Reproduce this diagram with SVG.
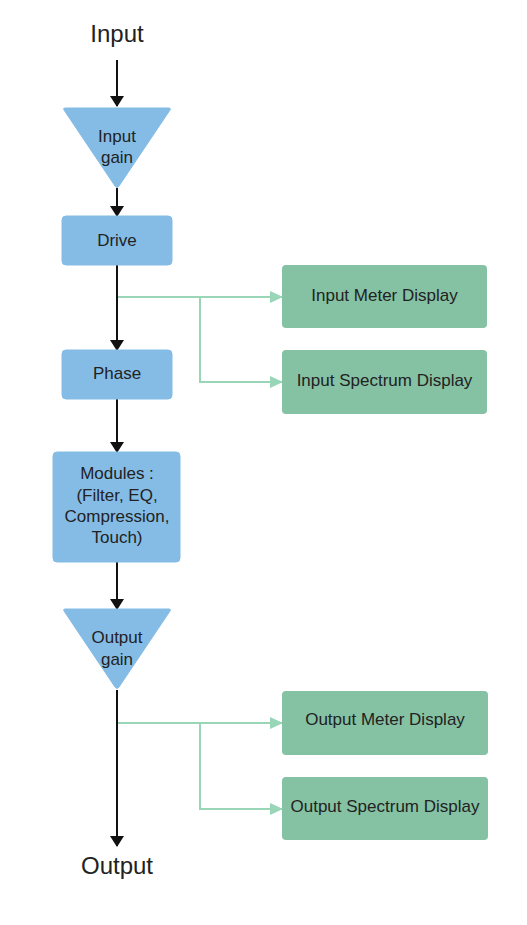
<svg xmlns="http://www.w3.org/2000/svg" width="527" height="925" viewBox="0 0 527 925">
<defs>
<style>
text{font-family:"Liberation Sans",Arial,sans-serif;fill:#222;text-anchor:middle}
.t{font-size:17px}
.big{font-size:24px}
.blue{fill:#84bce6;stroke:#84bce6;stroke-width:1;stroke-linejoin:round}
.green{fill:#85c1a3}
.main{stroke:#111;stroke-width:2;fill:none}
.br{stroke:#99d6b8;stroke-width:2;fill:none}
</style>
<marker id="ab" markerWidth="11" markerHeight="14" refX="10" refY="7" orient="auto" markerUnits="userSpaceOnUse">
<path d="M0,0 L11,7 L0,14 Z" fill="#111"/>
</marker>
<marker id="ag" markerWidth="13" markerHeight="12" refX="12" refY="6" orient="auto" markerUnits="userSpaceOnUse">
<path d="M0,0 L13,6 L0,12 Z" fill="#99d6b8"/>
</marker>
</defs>
<rect width="527" height="925" fill="#fff"/>
<g id="connectors">
<path class="main" d="M117,60 V106" marker-end="url(#ab)"/>
<path class="main" d="M117,188 V216" marker-end="url(#ab)"/>
<path class="main" d="M117,265 V350" marker-end="url(#ab)"/>
<path class="main" d="M117,399 V452" marker-end="url(#ab)"/>
<path class="main" d="M117,562 V609" marker-end="url(#ab)"/>
<path class="main" d="M117,690 V846" marker-end="url(#ab)"/>
<path class="br" d="M118,297 H282" marker-end="url(#ag)"/>
<path class="br" d="M200,297 V382 H282" marker-end="url(#ag)"/>
<path class="br" d="M118,723 H282" marker-end="url(#ag)"/>
<path class="br" d="M200,723 V809 H282" marker-end="url(#ag)"/>
</g>
<g id="input"><text class="big" x="117" y="42">Input</text></g>
<g id="input-gain">
<path class="blue" d="M65,108 H169 Q171,108 170,110 L119,186 Q117,189 115,186 L64,110 Q63,108 65,108 Z"/>
<text class="t" x="117" y="142">Input</text>
<text class="t" x="117" y="163">gain</text>
</g>
<g id="drive">
<rect class="blue" x="62" y="216" width="110" height="49" rx="4"/>
<text class="t" x="117" y="246">Drive</text>
</g>
<g id="input-meter">
<rect class="green" x="282" y="265" width="205" height="63" rx="4"/>
<text class="t" x="384.5" y="301">Input Meter Display</text>
</g>
<g id="input-spectrum">
<rect class="green" x="282" y="350" width="205" height="64" rx="4"/>
<text class="t" x="384.5" y="386">Input Spectrum Display</text>
</g>
<g id="phase">
<rect class="blue" x="62" y="350" width="110" height="49" rx="4"/>
<text class="t" x="117" y="379">Phase</text>
</g>
<g id="modules">
<rect class="blue" x="53" y="452" width="127" height="110" rx="4"/>
<text class="t" x="117" y="479">Modules :</text>
<text class="t" x="117" y="501">(Filter, EQ,</text>
<text class="t" x="117" y="522">Compression,</text>
<text class="t" x="117" y="543">Touch)</text>
</g>
<g id="output-gain">
<path class="blue" d="M65,609 H169 Q171,609 170,611 L119,687 Q117,690 115,687 L64,611 Q63,609 65,609 Z"/>
<text class="t" x="117" y="643">Output</text>
<text class="t" x="117" y="665">gain</text>
</g>
<g id="output-meter">
<rect class="green" x="282" y="691" width="206" height="64" rx="4"/>
<text class="t" x="385" y="725">Output Meter Display</text>
</g>
<g id="output-spectrum">
<rect class="green" x="282" y="777" width="206" height="63" rx="4"/>
<text class="t" x="385" y="812">Output Spectrum Display</text>
</g>
<g id="output"><text class="big" x="117" y="874">Output</text></g>
</svg>
